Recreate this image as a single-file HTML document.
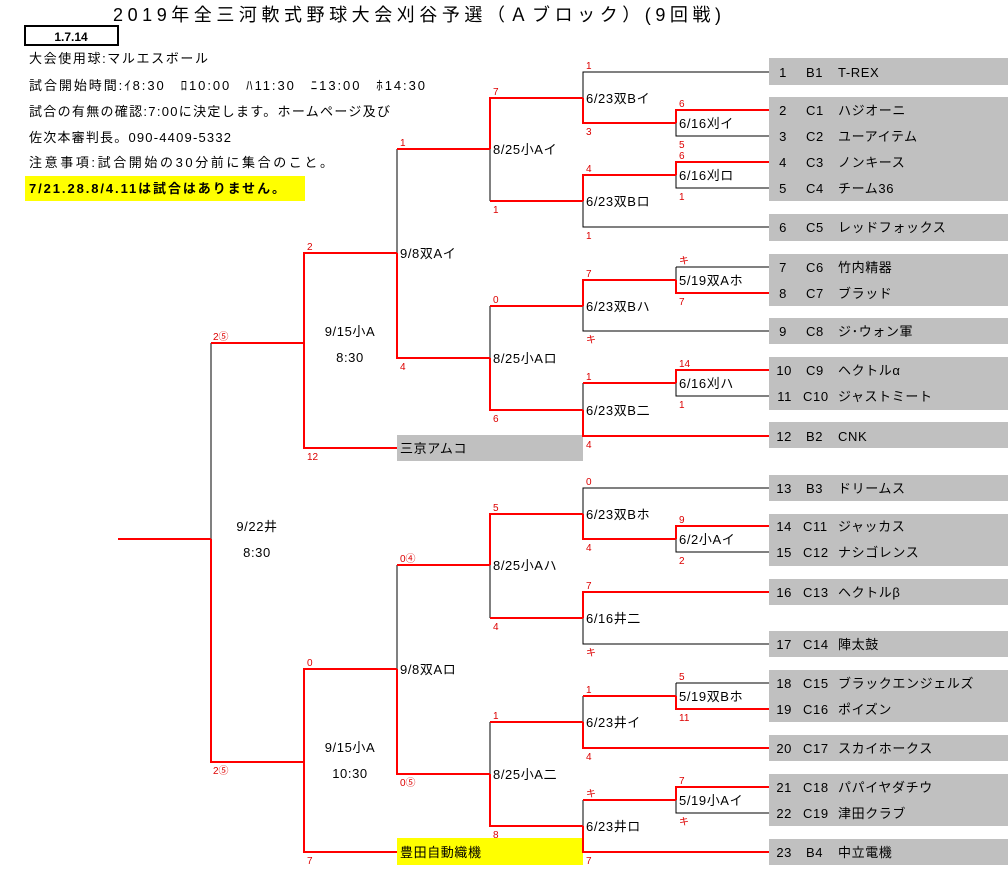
<!DOCTYPE html>
<html><head><meta charset="utf-8"><style>
html,body{margin:0;padding:0;background:#fff;width:1008px;height:891px;overflow:hidden}
svg{display:block}
text{font-family:"Liberation Sans","Noto Sans CJK JP",sans-serif}
.r{stroke:#f00;stroke-width:2;fill:none}
.k{stroke:#000;stroke-width:1;fill:none}
.s{fill:#d00;font-size:10px}
.l{fill:#000;font-size:13px;letter-spacing:0.6px}
.t{fill:#000;font-size:13px;letter-spacing:0.6px}
</style></head><body>
<svg width="1008" height="891" xmlns="http://www.w3.org/2000/svg">
<text x="113" y="21" textLength="608" lengthAdjust="spacing" style="font-size:18px" fill="#000">2019年全三河軟式野球大会刈谷予選（Ａブロック）(9回戦)</text>
<rect x="25" y="26" width="93" height="19" fill="#fff" stroke="#000" stroke-width="2"/>
<text x="71" y="41" text-anchor="middle" style="font-size:12px;font-weight:bold">1.7.14</text>
<text x="29" y="63" style="font-size:13px" textLength="179" lengthAdjust="spacing">大会使用球:マルエスボール</text>
<text x="29" y="90" style="font-size:13px" textLength="396" lengthAdjust="spacing">試合開始時間:ｲ8:30　ﾛ10:00　ﾊ11:30　ﾆ13:00　ﾎ14:30</text>
<text x="29" y="116" style="font-size:13px" textLength="361" lengthAdjust="spacing">試合の有無の確認:7:00に決定します。ホームページ及び</text>
<text x="29" y="142" style="font-size:13px" textLength="202" lengthAdjust="spacing">佐次本審判長。090-4409-5332</text>
<text x="29" y="167" style="font-size:13px" textLength="304" lengthAdjust="spacing">注意事項:試合開始の30分前に集合のこと。</text>
<rect x="25" y="176" width="280" height="25" fill="#ff0"/>
<text x="29" y="193" style="font-size:13px;font-weight:bold" textLength="256" lengthAdjust="spacing">7/21.28.8/4.11は試合はありません。</text>

<g fill="#c0c0c0">
<rect x="769" y="58" width="239" height="27"/>
<rect x="769" y="97" width="239" height="104"/>
<rect x="769" y="214" width="239" height="27"/>
<rect x="769" y="254" width="239" height="52"/>
<rect x="769" y="318" width="239" height="26"/>
<rect x="769" y="357" width="239" height="53"/>
<rect x="769" y="422" width="239" height="26"/>
<rect x="769" y="475" width="239" height="26"/>
<rect x="769" y="514" width="239" height="52"/>
<rect x="769" y="579" width="239" height="26"/>
<rect x="769" y="631" width="239" height="26"/>
<rect x="769" y="670" width="239" height="52"/>
<rect x="769" y="735" width="239" height="26"/>
<rect x="769" y="774" width="239" height="52"/>
<rect x="769" y="839" width="239" height="26"/>
<rect x="397" y="435" width="186" height="26"/>
</g>
<rect x="397" y="838" width="186" height="27" fill="#ff0"/>
<text class="t" x="400" y="453">三京アムコ</text>
<text class="t" x="400" y="857">豊田自動織機</text>

<g class="t">
<text x="787" y="77" text-anchor="end">1</text><text x="806" y="77">B1</text><text x="838" y="77">T-REX</text>
<text x="787" y="115" text-anchor="end">2</text><text x="806" y="115">C1</text><text x="838" y="115">ハジオーニ</text>
<text x="787" y="141" text-anchor="end">3</text><text x="806" y="141">C2</text><text x="838" y="141">ユーアイテム</text>
<text x="787" y="167" text-anchor="end">4</text><text x="806" y="167">C3</text><text x="838" y="167">ノンキース</text>
<text x="787" y="193" text-anchor="end">5</text><text x="806" y="193">C4</text><text x="838" y="193">チーム36</text>
<text x="787" y="232" text-anchor="end">6</text><text x="806" y="232">C5</text><text x="838" y="232">レッドフォックス</text>
<text x="787" y="272" text-anchor="end">7</text><text x="806" y="272">C6</text><text x="838" y="272">竹内精器</text>
<text x="787" y="298" text-anchor="end">8</text><text x="806" y="298">C7</text><text x="838" y="298">ブラッド</text>
<text x="787" y="336" text-anchor="end">9</text><text x="806" y="336">C8</text><text x="838" y="336">ジ･ウォン軍</text>
<text x="792" y="375" text-anchor="end">10</text><text x="806" y="375">C9</text><text x="838" y="375">ヘクトルα</text>
<text x="792" y="401" text-anchor="end">11</text><text x="803" y="401">C10</text><text x="838" y="401">ジャストミート</text>
<text x="792" y="441" text-anchor="end">12</text><text x="806" y="441">B2</text><text x="838" y="441">CNK</text>
<text x="792" y="493" text-anchor="end">13</text><text x="806" y="493">B3</text><text x="838" y="493">ドリームス</text>
<text x="792" y="531" text-anchor="end">14</text><text x="803" y="531">C11</text><text x="838" y="531">ジャッカス</text>
<text x="792" y="557" text-anchor="end">15</text><text x="803" y="557">C12</text><text x="838" y="557">ナシゴレンス</text>
<text x="792" y="597" text-anchor="end">16</text><text x="803" y="597">C13</text><text x="838" y="597">ヘクトルβ</text>
<text x="792" y="649" text-anchor="end">17</text><text x="803" y="649">C14</text><text x="838" y="649">陣太鼓</text>
<text x="792" y="688" text-anchor="end">18</text><text x="803" y="688">C15</text><text x="838" y="688">ブラックエンジェルズ</text>
<text x="792" y="714" text-anchor="end">19</text><text x="803" y="714">C16</text><text x="838" y="714">ポイズン</text>
<text x="792" y="753" text-anchor="end">20</text><text x="803" y="753">C17</text><text x="838" y="753">スカイホークス</text>
<text x="792" y="792" text-anchor="end">21</text><text x="803" y="792">C18</text><text x="838" y="792">パパイヤダチウ</text>
<text x="792" y="818" text-anchor="end">22</text><text x="803" y="818">C19</text><text x="838" y="818">津田クラブ</text>
<text x="792" y="857" text-anchor="end">23</text><text x="806" y="857">B4</text><text x="838" y="857">中立電機</text>
</g>

<path class="k" d="M676 123V136H769 M676 175V188H769 M676 267H769 M676 267V280 M676 383V396H769 M676 539V552H769 M676 683H769 M676 683V696 M676 800V813H769"/>
<path class="r" d="M769 110H676V123 M769 162H676V175 M769 293H676V280 M769 370H676V383 M769 526H676V539 M769 709H676V696 M769 787H676V800"/>
<path class="k" d="M769 72H583V98 M583 201V227H769 M583 306V331H769 M583 383V410 M769 488H583V514 M583 618V644H769 M583 696V722 M583 800V826"/>
<path class="r" d="M676 123H583V98 M676 175H583V201 M676 280H583V306 M676 383H583 M769 436H583V410 M676 539H583V514 M769 592H583V618 M676 696H583 M769 748H583V722 M676 800H583 M769 852H583V826"/>
<path class="k" d="M490 149V201 M490 306V358 M490 565V618 M490 722V774"/>
<path class="r" d="M583 98H490V149 M583 201H490 M583 306H490 M583 410H490V358 M583 514H490V565 M583 618H490 M583 722H490 M583 826H490V774"/>
<path class="k" d="M397 149V253 M397 565V669"/>
<path class="r" d="M490 149H397 M490 358H397V253 M490 565H397 M490 774H397V669"/>
<path class="r" d="M397 253H304V448H397 M397 669H304V852H397"/>
<path class="k" d="M211 343V539"/>
<path class="r" d="M304 343H211 M304 762H211V539 M118 539H211"/>

<g class="l">
<text x="679" y="128">6/16刈イ</text>
<text x="679" y="180">6/16刈ロ</text>
<text x="679" y="285">5/19双Aホ</text>
<text x="679" y="388">6/16刈ハ</text>
<text x="679" y="544">6/2小Aイ</text>
<text x="679" y="701">5/19双Bホ</text>
<text x="679" y="805">5/19小Aイ</text>
<text x="586" y="103">6/23双Bイ</text>
<text x="586" y="206">6/23双Bロ</text>
<text x="586" y="311">6/23双Bハ</text>
<text x="586" y="415">6/23双B二</text>
<text x="586" y="519">6/23双Bホ</text>
<text x="586" y="623">6/16井二</text>
<text x="586" y="727">6/23井イ</text>
<text x="586" y="831">6/23井ロ</text>
<text x="493" y="154">8/25小Aイ</text>
<text x="493" y="363">8/25小Aロ</text>
<text x="493" y="570">8/25小Aハ</text>
<text x="493" y="779">8/25小A二</text>
<text x="400" y="258">9/8双Aイ</text>
<text x="400" y="674">9/8双Aロ</text>
<text x="350" y="336" text-anchor="middle">9/15小A</text>
<text x="350" y="362" text-anchor="middle">8:30</text>
<text x="350" y="752" text-anchor="middle">9/15小A</text>
<text x="350" y="778" text-anchor="middle">10:30</text>
<text x="257" y="531" text-anchor="middle">9/22井</text>
<text x="257" y="557" text-anchor="middle">8:30</text>
</g>

<g class="s">
<text x="679" y="107">6</text><text x="679" y="148">5</text>
<text x="679" y="159">6</text><text x="679" y="200">1</text>
<text x="679" y="264">キ</text><text x="679" y="305">7</text>
<text x="679" y="367">14</text><text x="679" y="408">1</text>
<text x="679" y="523">9</text><text x="679" y="564">2</text>
<text x="679" y="680">5</text><text x="679" y="721">11</text>
<text x="679" y="784">7</text><text x="679" y="825">キ</text>
<text x="586" y="69">1</text><text x="586" y="135">3</text>
<text x="586" y="172">4</text><text x="586" y="239">1</text>
<text x="586" y="277">7</text><text x="586" y="343">キ</text>
<text x="586" y="380">1</text><text x="586" y="448">4</text>
<text x="586" y="485">0</text><text x="586" y="551">4</text>
<text x="586" y="589">7</text><text x="586" y="656">キ</text>
<text x="586" y="693">1</text><text x="586" y="760">4</text>
<text x="586" y="797">キ</text><text x="586" y="864">7</text>
<text x="493" y="95">7</text><text x="493" y="213">1</text>
<text x="493" y="303">0</text><text x="493" y="422">6</text>
<text x="493" y="511">5</text><text x="493" y="630">4</text>
<text x="493" y="719">1</text><text x="493" y="838">8</text>
<text x="400" y="146">1</text><text x="400" y="370">4</text>
<text x="400" y="562">0④</text><text x="400" y="786">0⑤</text>
<text x="307" y="250">2</text><text x="307" y="460">12</text>
<text x="307" y="666">0</text><text x="307" y="864">7</text>
<text x="213" y="340">2⑤</text><text x="213" y="774">2⑤</text>
</g>
</svg>
</body></html>
